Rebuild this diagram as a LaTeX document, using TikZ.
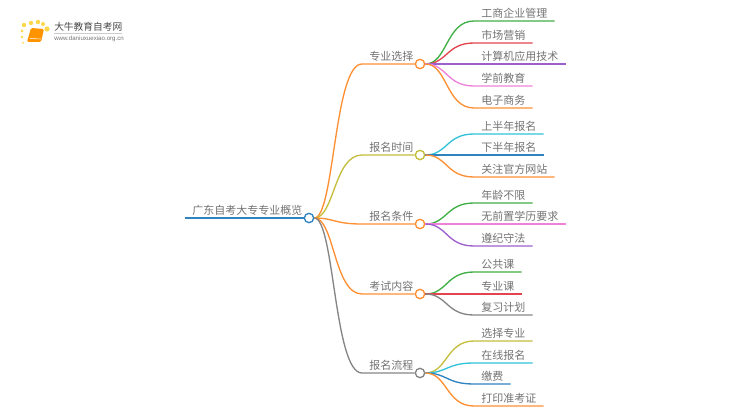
\documentclass[tikz,border=0pt]{standalone}
\usepackage{fontspec}
\setmainfont{Noto Sans CJK SC}
\newfontfamily\urlfont{Liberation Sans}
\usepackage{xcolor}
\usetikzlibrary{arrows,positioning}
\definecolor{mapgreen}{HTML}{3FAE45}
\definecolor{mapred}{HTML}{E2454F}
\definecolor{mappurple}{HTML}{9C5FCB}
\definecolor{mappink}{HTML}{EE82D9}
\definecolor{maporange}{HTML}{FF8F33}
\definecolor{mapcyan}{HTML}{33C3D8}
\definecolor{mapblue}{HTML}{2F83BE}
\definecolor{mapolive}{HTML}{C5BD3C}
\definecolor{mapgray}{HTML}{858585}
\begin{document}
\begin{tikzpicture}[x=0.75pt,y=-0.75pt]
        \tikzset{label/.style={anchor=south west,inner xsep=5.25pt,inner ysep=1pt,text height=7pt,text depth=1.2pt,
        text=black!55,font=\fontsize{8.25}{10}\selectfont},
        dot/.style={draw,circle,fill=white,line width=1pt,inner sep=0pt,minimum size=7pt},
        branch/.style={line width=1pt},
        }
        \useasboundingbox (0,0) rectangle (750,410);

%% logo
        \foreach \x/\y/\r in {24/25/2.2,31/23/2.2,38/22/2.2,43/24/2,47/29/2.6,22/31/1.6,22/37/1.3,23/43/1}
            \fill[yellow!60!orange!70] (\x,\y) circle (\r);
        \fill[orange!85!yellow,rounded corners=1pt] (31,28) -- (44,29) -- (41,42) -- (27,42) -- cycle;
        \draw[white,line width=0.4pt] (30,38.5) -- (41,39);
        \node [anchor=west,inner sep=0pt,text=black!72,font=\fontsize{7.3}{9}\selectfont] (logotitle) at (54,27) {大牛教育自考网};
        \node [anchor=west,inner sep=0pt,text=black!55,font=\fontsize{4.6}{6}\urlfont] (logourl) at (54,39) {www.daniuxuexiao.org.cn};
        \draw[black!20,line width=0.4pt] (54,33) -- (122,33);

%% root and the five topics
        \node [label] (root) at (185,218) {广东自考大专专业概览};
        \node [dot,draw=mapblue] (rootdot) at (309,218) {};
        \node [label] (major) at (362,64) {专业选择};
        \node [dot,draw=maporange] (majordot) at (420,64) {};
        \node [label] (time) at (362,155) {报名时间};
        \node [dot,draw=mapolive] (timedot) at (420,155) {};
        \node [label] (cond) at (362,224) {报名条件};
        \node [dot,draw=maporange] (conddot) at (420,224) {};
        \node [label] (exam) at (362,294) {考试内容};
        \node [dot,draw=maporange] (examdot) at (420,294) {};
        \node [label] (flow) at (362,373) {报名流程};
        \node [dot,draw=mapgray] (flowdot) at (420,373) {};

%% leaves
        \node [label] (a1) at (474,21) {工商企业管理};
        \node [label] (a2) at (474,43) {市场营销};
        \node [label] (a3) at (474,64) {计算机应用技术};
        \node [label] (a4) at (474,86) {学前教育};
        \node [label] (a5) at (474,108) {电子商务};
        \node [label] (b1) at (474,134) {上半年报名};
        \node [label] (b2) at (474,155) {下半年报名};
        \node [label] (b3) at (474,177) {关注官方网站};
        \node [label] (c1) at (474,203) {年龄不限};
        \node [label] (c2) at (474,224) {无前置学历要求};
        \node [label] (c3) at (474,246) {遵纪守法};
        \node [label] (d1) at (474,272) {公共课};
        \node [label] (d2) at (474,294) {专业课};
        \node [label] (d3) at (474,315) {复习计划};
        \node [label] (e1) at (474,341) {选择专业};
        \node [label] (e2) at (474,363) {在线报名};
        \node [label] (e3) at (474,384) {缴费};
        \node [label] (e4) at (474,406) {打印准考证};

%% paths
        \draw[mapblue,line width=1.9pt] (root.south west) -- (rootdot.west);
        \foreach \topic/\col in {major/maporange,time/mapolive,cond/maporange,exam/maporange,flow/mapgray}
            \draw[branch,\col] (rootdot.east) .. controls +(20,0) and +(-28,0) .. (\topic.south west) -- (\topic dot.west);
        \foreach \from/\to/\col in {major/a1/mapgreen,major/a2/mapred,major/a3/mappurple,major/a4/mappink,major/a5/maporange,
            time/b1/mapcyan,time/b2/mapblue,time/b3/maporange,
            cond/c1/mapgreen,cond/c2/mappink,cond/c3/mappurple,
            exam/d1/mapgreen,exam/d2/mapred,exam/d3/mapgray,
            flow/e1/mapolive,flow/e2/mapcyan,flow/e3/mapblue,flow/e4/maporange}
            \draw[branch,\col] (\from dot.east) .. controls +(22,0) and +(-28,0) .. (\to.south west) -- (\to.south east);
    \end{tikzpicture}
\end{document}
